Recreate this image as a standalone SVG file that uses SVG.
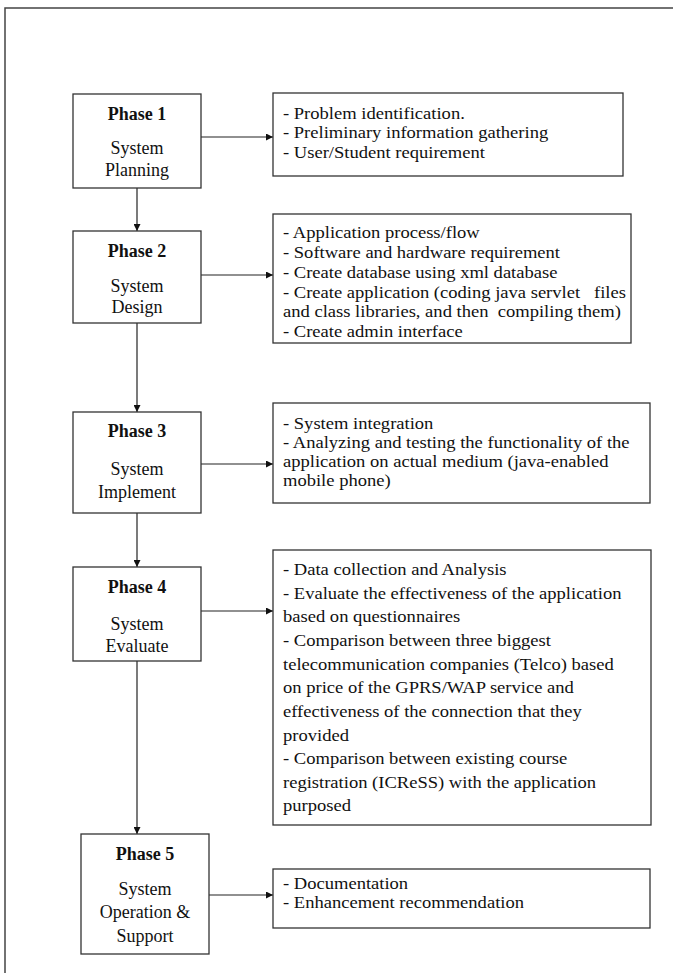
<svg xmlns="http://www.w3.org/2000/svg" width="673" height="973" viewBox="0 0 673 973">
<defs>
<marker id="ah" viewBox="0 0 10 10" refX="10" refY="5" markerWidth="7" markerHeight="7" markerUnits="userSpaceOnUse" orient="auto">
<path d="M0,0 L10,5 L0,10 z" fill="#111"/>
</marker>
<style>
.frame{stroke:#444;stroke-width:1.5;fill:none}
.box{fill:#fff;stroke:#333;stroke-width:1.3}
.conn{stroke:#222;stroke-width:1.2;fill:none;marker-end:url(#ah)}
.ph{font-family:"Liberation Serif","Times New Roman",serif;font-size:18px;font-weight:bold;text-anchor:middle;fill:#111}
.pt{font-family:"Liberation Serif","Times New Roman",serif;font-size:18px;text-anchor:middle;fill:#111}
.rt{font-family:"Liberation Serif","Times New Roman",serif;font-size:16px;fill:#111}
</style>
</defs>
<rect width="673" height="973" fill="#fff"/>
<path class="frame" d="M5,973 V8 H673"/>

<g id="connectors">
<line class="conn" x1="201" y1="137" x2="273" y2="137"/>
<line class="conn" x1="201" y1="275" x2="273" y2="275"/>
<line class="conn" x1="201" y1="464" x2="273" y2="464"/>
<line class="conn" x1="201" y1="611" x2="273" y2="611"/>
<line class="conn" x1="209" y1="895" x2="273" y2="895"/>
<line class="conn" x1="137" y1="188" x2="137" y2="231"/>
<line class="conn" x1="137" y1="323" x2="137" y2="412"/>
<line class="conn" x1="137" y1="513" x2="137" y2="567"/>
<line class="conn" x1="137" y1="661" x2="137" y2="834"/>
</g>

<g id="phase1">
<rect class="box" x="73" y="94" width="128" height="94"/>
<text class="ph" x="137" y="120">Phase 1</text>
<text class="pt" x="137" y="154">System</text>
<text class="pt" x="137" y="176">Planning</text>
</g>
<g id="phase2">
<rect class="box" x="73" y="231" width="128" height="92"/>
<text class="ph" x="137" y="257">Phase 2</text>
<text class="pt" x="137" y="292">System</text>
<text class="pt" x="137" y="313">Design</text>
</g>
<g id="phase3">
<rect class="box" x="73" y="412" width="128" height="101"/>
<text class="ph" x="137" y="437">Phase 3</text>
<text class="pt" x="137" y="475">System</text>
<text class="pt" x="137" y="498">Implement</text>
</g>
<g id="phase4">
<rect class="box" x="73" y="567" width="128" height="94"/>
<text class="ph" x="137" y="593">Phase 4</text>
<text class="pt" x="137" y="630">System</text>
<text class="pt" x="137" y="652">Evaluate</text>
</g>
<g id="phase5">
<rect class="box" x="81" y="834" width="128" height="120"/>
<text class="ph" x="145" y="860">Phase 5</text>
<text class="pt" x="145" y="895">System</text>
<text class="pt" x="145" y="918">Operation &amp;</text>
<text class="pt" x="145" y="942">Support</text>
</g>

<g id="detail1">
<rect class="box" x="273" y="93" width="350" height="83"/>
<g transform="translate(283,0) scale(1.16,1)">
<text class="rt" x="0" y="119">- Problem identification.</text>
<text class="rt" x="0" y="138.5">- Preliminary information gathering</text>
<text class="rt" x="0" y="158">- User/Student requirement</text>
</g>
</g>
<g id="detail2">
<rect class="box" x="273" y="214" width="358" height="129"/>
<g transform="translate(283,0) scale(1.16,1)">
<text class="rt" x="0" y="238">- Application process/flow</text>
<text class="rt" x="0" y="258">- Software and hardware requirement</text>
<text class="rt" x="0" y="278">- Create database using xml database</text>
<text class="rt" x="0" y="298" xml:space="preserve">- Create application (coding java servlet   files</text>
<text class="rt" x="0" y="317" xml:space="preserve">and class libraries, and then  compiling them)</text>
<text class="rt" x="0" y="337">- Create admin interface</text>
</g>
</g>
<g id="detail3">
<rect class="box" x="273" y="403" width="377" height="100"/>
<g transform="translate(283,0) scale(1.16,1)">
<text class="rt" x="0" y="429">- System integration</text>
<text class="rt" x="0" y="448">- Analyzing and testing the functionality of the</text>
<text class="rt" x="0" y="467">application on actual medium (java-enabled</text>
<text class="rt" x="0" y="486">mobile phone)</text>
</g>
</g>
<g id="detail4">
<rect class="box" x="273" y="550" width="378" height="275"/>
<g transform="translate(283,0) scale(1.16,1)">
<text class="rt" x="0" y="575.5">- Data collection and Analysis</text>
<text class="rt" x="0" y="599">- Evaluate the effectiveness of the application</text>
<text class="rt" x="0" y="622.5">based on questionnaires</text>
<text class="rt" x="0" y="646">- Comparison between three biggest</text>
<text class="rt" x="0" y="670">telecommunication companies (Telco) based</text>
<text class="rt" x="0" y="693.5">on price of the GPRS/WAP service and</text>
<text class="rt" x="0" y="717">effectiveness of the connection that they</text>
<text class="rt" x="0" y="741">provided</text>
<text class="rt" x="0" y="764.5">- Comparison between existing course</text>
<text class="rt" x="0" y="788">registration (ICReSS) with the application</text>
<text class="rt" x="0" y="811.5">purposed</text>
</g>
</g>
<g id="detail5">
<rect class="box" x="273" y="869" width="377" height="59"/>
<g transform="translate(283,0) scale(1.16,1)">
<text class="rt" x="0" y="889">- Documentation</text>
<text class="rt" x="0" y="908">- Enhancement recommendation</text>
</g>
</g>
</svg>
